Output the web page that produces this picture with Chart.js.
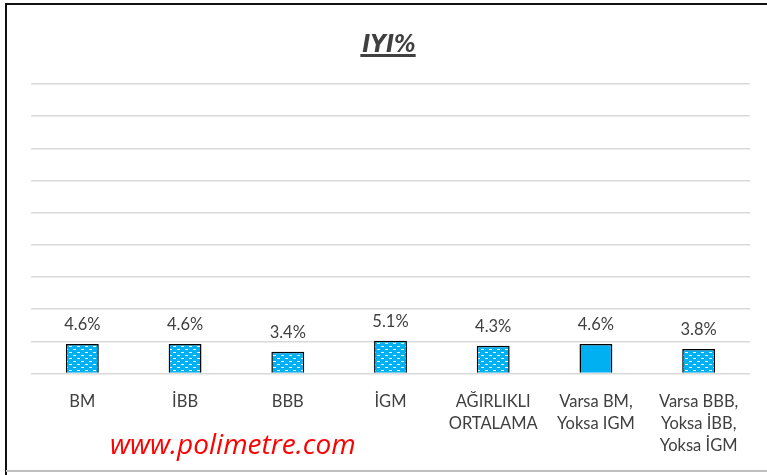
<!DOCTYPE html>
<html>
<head>
<meta charset="utf-8">
<script src="https://cdn.jsdelivr.net/npm/chart.js@4.4.0/dist/chart.umd.min.js"></script>
<style>
  html, body { margin: 0; padding: 0; background: #fff; }
  #wrap { position: relative; width: 767px; height: 475px; }
</style>
</head>
<body>
<div id="wrap"><canvas id="chart" width="767" height="475"></canvas></div>
<script>
const categories = [
    'BM',
    'İBB',
    'BBB',
    'İGM',
    ['AĞIRLIKLI', 'ORTALAMA'],
    ['Varsa BM,', 'Yoksa IGM'],
    ['Varsa BBB,', 'Yoksa İBB,', 'Yoksa İGM']
];
const iyiValues = [4.6, 4.6, 3.4, 5.1, 4.3, 4.6, 3.8];
const chartTitle = 'IYI%';
const watermark = 'www.polimetre.com';
const yMax = 45;
const yStep = 5;

const BLUE = '#00B0F0';
const TEXT = '#404040';
const LABEL_FONT = '16.5px Lato, "Noto Sans", sans-serif';

// dotted brick pattern like the excel fill
const makePattern = () => {
    const tile = document.createElement('canvas');
    tile.width = 8;
    tile.height = 6;
    const t = tile.getContext('2d');
    t.fillStyle = BLUE;
    t.fillRect(0, 0, 8, 6);
    t.fillStyle = '#ffffff';
    t.fillRect(1, 1, 3, 1);
    t.fillRect(5, 4, 3, 1);
    const ctx = document.getElementById('chart').getContext('2d');
    return ctx.createPattern(tile, 'repeat');
};
const pattern = makePattern();
const barColors = iyiValues.map((v, i) => i === 5 ? BLUE : pattern);

const decorPlugin = {
    id: 'decor',
    beforeDraw: (chart) => {
        const ctx = chart.ctx;
        ctx.save();
        ctx.fillStyle = '#fff';
        ctx.fillRect(0, 0, chart.width, chart.height);
        // frame
        ctx.strokeStyle = '#111';
        ctx.lineWidth = 2;
        ctx.beginPath();
        ctx.moveTo(6, 475);
        ctx.lineTo(6, 4);
        ctx.lineTo(767, 4);
        ctx.stroke();
        ctx.strokeStyle = '#bfbfbf';
        ctx.lineWidth = 2;
        ctx.beginPath();
        ctx.moveTo(6, 471);
        ctx.lineTo(767, 471);
        ctx.stroke();
        ctx.restore();
    },
    afterDraw: (chart) => {
        const ctx = chart.ctx;
        ctx.save();
        // title, underlined
        ctx.font = 'italic bold 24px "Liberation Sans Narrow", "DejaVu Sans Condensed", sans-serif';
        ctx.fillStyle = TEXT;
        ctx.textAlign = 'center';
        ctx.textBaseline = 'alphabetic';
        const cx = 389;
        ctx.fillText(chartTitle, cx, 52);
        const w = ctx.measureText(chartTitle).width;
        ctx.fillRect(cx - w / 2 - 2, 54, w + 2, 3);

        // value labels
        ctx.font = LABEL_FONT;
        ctx.textBaseline = 'middle';
        const meta = chart.getDatasetMeta(0);
        meta.data.forEach((bar, i) => {
            ctx.fillText(iyiValues[i].toFixed(1) + '%', bar.x, bar.y - 19);
        });

        // watermark
        ctx.font = 'italic 28px "Open Sans", Lato, sans-serif';
        ctx.fillStyle = '#ff0000';
        ctx.textAlign = 'left';
        ctx.fillText(watermark, 110, 446);
        ctx.restore();
    }
};

new Chart(document.getElementById('chart'), {
    type: 'bar',
    data: {
        labels: categories,
        datasets: [{
            data: iyiValues,
            backgroundColor: barColors,
            borderColor: '#000',
            borderWidth: 1.5,
            categoryPercentage: 1,
            barPercentage: 0.32
        }]
    },
    options: {
        responsive: false,
        animation: false,
        layout: { padding: { left: 31, right: 17, top: 84, bottom: 11.5 } },
        plugins: {
            legend: { display: false },
            tooltip: { enabled: false },
            title: { display: false }
        },
        scales: {
            x: {
                grid: { display: false },
                border: { display: false },
                ticks: {
                    color: TEXT,
                    font: { family: 'Lato, "Noto Sans", sans-serif', size: 16.5, lineHeight: 1.34 },
                    padding: 9,
                    maxRotation: 0,
                    autoSkip: false
                },
                afterFit: (s) => { s.height = 90; }
            },
            y: {
                min: 0,
                max: yMax,
                ticks: { display: false, stepSize: yStep },
                grid: { color: '#d9d9d9', lineWidth: 1.5, drawTicks: false },
                border: { display: false }
            }
        }
    },
    plugins: [decorPlugin]
});
</script>
</body>
</html>
